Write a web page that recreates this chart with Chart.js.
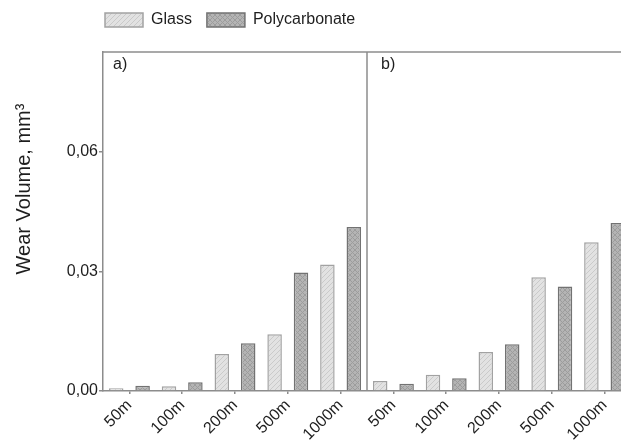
<!DOCTYPE html>
<html>
<head>
<meta charset="utf-8">
<script src="https://cdn.jsdelivr.net/npm/chart.js@4.4.1/dist/chart.umd.min.js"></script>
<style>
  html, body { margin: 0; padding: 0; background: #ffffff; }
  #wrap { width: 621px; height: 440px; overflow: hidden; position: relative; }
  canvas { display: block; }
</style>
</head>
<body>
<div id="wrap"><canvas id="c" width="640" height="440"></canvas></div>
<script>
// ---- data ----
const distances = ['50m', '100m', '200m', '500m', '1000m'];
const panelLabels = ['a)', 'b)'];
const seriesNames = ['Glass', 'Polycarbonate'];
// panel a)
const glassA = [0.0007, 0.0012, 0.0093, 0.0142, 0.0317];
const polyA  = [0.0013, 0.0022, 0.0120, 0.0297, 0.0411];
// panel b)
const glassB = [0.0025, 0.0041, 0.0098, 0.0285, 0.0373];
const polyB  = [0.0018, 0.0032, 0.0117, 0.0262, 0.0421];
const yTitle = 'Wear Volume, mm\u00B3';

// ---- hatch patterns ----
function makePattern(bg, fg, cross) {
  const t = document.createElement('canvas');
  t.width = 5; t.height = 5;
  const g = t.getContext('2d');
  g.fillStyle = bg; g.fillRect(0, 0, 5, 5);
  g.strokeStyle = fg; g.lineWidth = 1;
  g.beginPath();
  g.moveTo(0, 5); g.lineTo(5, 0);
  g.moveTo(-1, 1); g.lineTo(1, -1);
  g.moveTo(4, 6); g.lineTo(6, 4);
  if (cross) {
    g.moveTo(0, 0); g.lineTo(5, 5);
    g.moveTo(-1, 4); g.lineTo(1, 6);
    g.moveTo(4, -1); g.lineTo(6, 1);
  }
  g.stroke();
  return g.createPattern(t, 'repeat');
}
const ctx = document.getElementById('c').getContext('2d');
const glassFill = makePattern('#e2e2e2', '#cacaca', false);
const polyFill = makePattern('#b4b4b4', '#9c9c9c', true);

const labels = distances.concat(distances);
const glassData = glassA.concat(glassB);
const polyData = polyA.concat(polyB);

const frameColor = '#8c8c8c';
const textColor = '#1e1e1e';

const panelPlugin = {
  id: 'panelPlugin',
  afterLayout(chart) {
    const lg = chart.legend, ca = chart.chartArea;
    if (!lg) return;
    const pad = lg.options.labels.padding;
    const dx = (ca.left + 2) - (lg.left + pad);
    lg.left += dx; lg.right += dx;
    const dy = (ca.top - 40) - (lg.top + pad);
    lg.top += dy; lg.bottom += dy;
  },
  afterDatasetsDraw(chart) {
    const c = chart.ctx, ca = chart.chartArea, xs = chart.scales.x;
    const n = distances.length;
    c.save();
    c.strokeStyle = frameColor;
    c.lineWidth = 1.5;
    // top frame line
    c.beginPath();
    c.moveTo(ca.left, ca.top); c.lineTo(ca.right, ca.top);
    c.stroke();
    // divider between panels
    const xd = (xs.getPixelForValue(n - 1) + xs.getPixelForValue(n)) / 2;
    c.beginPath();
    c.moveTo(xd, ca.top); c.lineTo(xd, ca.bottom);
    c.stroke();
    // panel labels
    c.fillStyle = textColor;
    c.font = '16px "Liberation Sans", Arial, sans-serif';
    c.textBaseline = 'top';
    c.textAlign = 'left';
    c.fillText(panelLabels[0], ca.left + 10, ca.top + 5);
    c.fillText(panelLabels[1], xd + 14, ca.top + 5);
    // y-axis title
    c.font = '20px "Liberation Sans", Arial, sans-serif';
    c.textAlign = 'center';
    c.textBaseline = 'middle';
    c.translate(ca.left - 79, ca.top + 137);
    c.rotate(-Math.PI / 2);
    c.fillText(yTitle, 0, 0);
    c.restore();
  }
};

new Chart(ctx, {
  type: 'bar',
  data: {
    labels: labels,
    datasets: [
      { label: seriesNames[0], data: glassData, backgroundColor: glassFill,
        borderColor: '#a2a2a2', borderWidth: 1.5 },
      { label: seriesNames[1], data: polyData, backgroundColor: polyFill,
        borderColor: '#727272', borderWidth: 1.5 }
    ]
  },
  options: {
    responsive: false,
    animation: false,
    devicePixelRatio: 1,
    layout: { padding: { top: 11, right: 9, bottom: 0, left: 0 } },
    datasets: { bar: { categoryPercentage: 1.0, barPercentage: 0.55 } },
    plugins: {
      legend: {
        position: 'top',
        align: 'start',
        fullSize: false,
        labels: {
          boxWidth: 38, boxHeight: 14, padding: 15,
          color: textColor,
          font: { size: 16, family: '"Liberation Sans", Arial, sans-serif' }
        }
      },
      tooltip: { enabled: false }
    },
    scales: {
      x: {
        offset: true,
        grid: { display: true, offset: false, drawOnChartArea: false, drawTicks: true,
                tickLength: 3, color: frameColor, lineWidth: 1.5 },
        border: { display: true, color: frameColor, width: 1.5 },
        ticks: {
          minRotation: 45, maxRotation: 45, autoSkip: false, padding: 2,
          color: textColor,
          font: { size: 16, family: '"Liberation Sans", Arial, sans-serif' }
        },
        afterFit(scale) { scale.height = 49; }
      },
      y: {
        min: 0, max: 0.085,
        grid: { display: true, drawOnChartArea: false, drawTicks: true, tickLength: 4,
                color: (ctx) => (ctx.tick && Math.round(ctx.tick.value * 1000) % 30 === 0) ? frameColor : 'rgba(0,0,0,0)',
                lineWidth: 1.5 },
        border: { display: true, color: frameColor, width: 1.5 },
        ticks: {
          stepSize: 0.015, includeBounds: false, padding: 1,
          color: textColor,
          font: { size: 16, family: '"Liberation Sans", Arial, sans-serif' },
          callback: (v) => (Math.round(v * 1000) % 30 === 0) ? v.toFixed(2).replace('.', ',') : ''
        },
        afterFit(scale) { scale.width = 103; }
      }
    }
  },
  plugins: [panelPlugin]
});
</script>
</body>
</html>
